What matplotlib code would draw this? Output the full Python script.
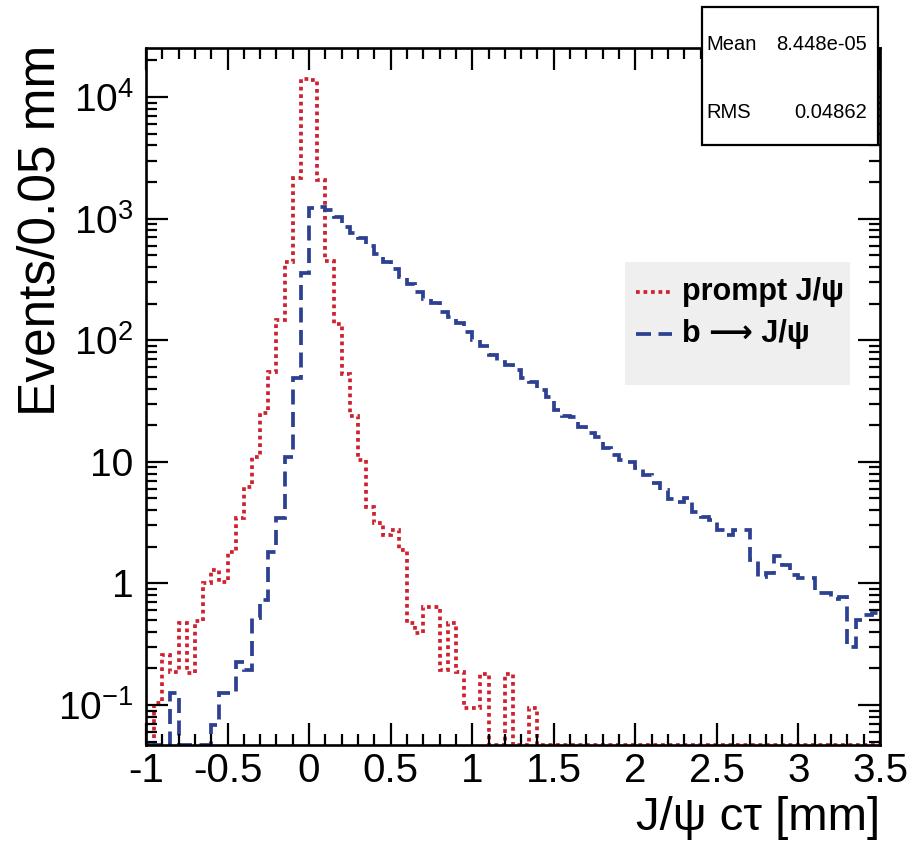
#!/usr/bin/env python3
"""J/psi の擬固有崩壊長 c tau 分布 (prompt と b 由来) を対数軸で描く。"""

import numpy as np
import matplotlib
matplotlib.use('Agg')
import matplotlib.pyplot as plt
from matplotlib.lines import Line2D
from matplotlib.patches import Rectangle
from matplotlib.ticker import FixedLocator, FixedFormatter, MultipleLocator, LogLocator, NullFormatter

# 0.05 mm ビン, -1 .. 3.5 mm (90 bins)
bin_lo = -1.0
bin_hi = 3.5
n_bins = 90

prompt_counts = [
    0, 0.103, 0.258, 0.188, 0.469, 0.183, 0.49, 1.0, 1.29, 1.03,
    1.82, 3.43, 6.24, 11.0, 25.0, 55.0, 146, 442, 2142, 14000,
    13700, 2072, 450, 137, 53.2, 24.0, 10.3, 4.27, 3.12, 2.5,
    2.75, 1.88, 0.47, 0.39, 0.64, 0.64, 0.194, 0.47, 0.188, 0.094,
    0.094, 0.18, 0, 0, 0.18, 0, 0, 0.094, 0, 0,
    0, 0, 0, 0, 0, 0, 0, 0, 0, 0,
    0, 0, 0, 0, 0, 0, 0, 0, 0, 0,
    0, 0, 0, 0, 0, 0, 0, 0, 0, 0,
    0, 0, 0, 0, 0, 0, 0, 0, 0, 0,
]
b_counts = [
    0, 0, 0, 0.125, 0, 0, 0, 0, 0.068, 0.125,
    0.125, 0.227, 0.194, 0.52, 0.73, 1.82, 3.43, 11.0, 48.6, 354,
    1218, 1257, 1176, 1023, 855, 757, 687, 597, 516, 442,
    383, 333, 290, 250, 220, 201, 171, 156, 138, 117,
    100, 90, 75, 66, 62, 57, 48.6, 45.5, 38.8, 34.2,
    26.7, 23.8, 23.5, 19.4, 17.2, 16.1, 12.9, 11.4, 10.3, 10.0,
    8.82, 7.79, 6.66, 5.85, 4.91, 4.7, 5.0, 3.89, 3.54, 3.32,
    2.75, 2.5, 2.75, 2.75, 1.56, 1.13, 1.22, 1.68, 1.42, 1.17,
    1.10, 1.10, 0.83, 0.83, 0.75, 0.78, 0.30, 0.50, 0.55, 0.57,
]

x_ticks = [-1, -0.5, 0, 0.5, 1, 1.5, 2, 2.5, 3, 3.5]
x_tick_labels = ['-1', '-0.5', '0', '0.5', '1', '1.5', '2', '2.5', '3', '3.5']
y_ticks = [1e-1, 1, 10, 1e2, 1e3, 1e4]
y_tick_labels = [r'$10^{-1}$', '1', '10', r'$10^{2}$', r'$10^{3}$', r'$10^{4}$']

stat_names = ['Mean', 'RMS']
stat_values = ['8.448e-05', '0.04862']
legend_labels = ['prompt J/ψ', 'b \u27f6 J/ψ']

x_title = 'J/ψ cτ [mm]'
y_title = 'Events/0.05 mm'

Y_MIN, Y_MAX = 0.0469, 2.53e4

FONT = ['Liberation Sans', 'DejaVu Sans']
RED = '#cf2231'
BLUE = '#2d4192'
RED_LS = (0, (1.0, 1.0))
BLUE_LS = (0, (4.0, 2.0))
LW = 2.7

W, H = 910, 842


def fig_xy(px, py):
    # ピクセル位置 (左上原点) → figure 座標
    return px / W, 1.0 - py / H


def main():
    plt.rcParams['font.family'] = FONT
    plt.rcParams['mathtext.fontset'] = 'custom'
    plt.rcParams['mathtext.rm'] = 'Liberation Sans'
    plt.rcParams['mathtext.it'] = 'Liberation Sans:italic'
    plt.rcParams['mathtext.bf'] = 'Liberation Sans:bold'

    fig = plt.figure(figsize=(W / 100, H / 100), dpi=100)
    x0, y1 = fig_xy(146, 48)
    x1, y0 = fig_xy(880, 745)
    ax = fig.add_axes([x0, y0, x1 - x0, y1 - y0])

    edges = np.linspace(bin_lo, bin_hi, n_bins + 1)
    # 空ビンはフレーム下端に張り付ける (ROOT と同じ見え方)
    for counts, color, ls in ((prompt_counts, RED, RED_LS), (b_counts, BLUE, BLUE_LS)):
        vals = np.asarray(counts, dtype=float)
        vals = np.where(vals > 0, vals, Y_MIN)
        ax.stairs(vals, edges, baseline=None, color=color, lw=LW, linestyle=ls)

    ax.set_yscale('log')
    ax.set_xlim(bin_lo, bin_hi)
    ax.set_ylim(Y_MIN, Y_MAX)

    ax.xaxis.set_major_locator(FixedLocator(x_ticks))
    ax.xaxis.set_major_formatter(FixedFormatter(x_tick_labels))
    ax.xaxis.set_minor_locator(MultipleLocator(0.1))
    ax.yaxis.set_major_locator(FixedLocator(y_ticks))
    ax.yaxis.set_major_formatter(FixedFormatter(y_tick_labels))
    ax.yaxis.set_minor_locator(LogLocator(base=10, subs=np.arange(2, 10), numticks=20))
    ax.yaxis.set_minor_formatter(NullFormatter())

    ax.tick_params(which='both', direction='in', top=True, right=True, width=1.6, colors='black')
    ax.tick_params(which='major', length=16)
    ax.tick_params(which='minor', length=8)
    ax.tick_params(axis='x', which='major', labelsize=29, pad=5)
    ax.tick_params(axis='y', which='major', labelsize=28, pad=9)
    for sp in ax.spines.values():
        sp.set_linewidth(1.9)

    ax.set_xlabel(x_title, fontsize=34, loc='right', labelpad=4)
    ax.set_ylabel(y_title, fontsize=37, loc='top')
    ax.yaxis.set_label_coords(-0.11, 1.005)

    # 統計ボックス (フレーム上辺に重ねる)
    bx0, by1 = fig_xy(702, 7)
    bx1, by0 = fig_xy(878, 145)
    fig.add_artist(Rectangle((bx0, by0), bx1 - bx0, by1 - by0, transform=fig.transFigure,
                             facecolor='white', edgecolor='black', lw=1.6, zorder=5))
    for name, value, py in zip(stat_names, stat_values, (45, 113)):
        tx, ty = fig_xy(706, py)
        fig.text(tx, ty, name, fontsize=14.5, va='center', ha='left', zorder=6)
        tx, ty = fig_xy(867, py)
        fig.text(tx, ty, value, fontsize=14.5, va='center', ha='right', zorder=6)

    # 凡例: 薄いグレーの箱, 枠線なし
    lx0, ly1 = fig_xy(625, 262)
    lx1, ly0 = fig_xy(850, 385)
    fig.add_artist(Rectangle((lx0, ly0), lx1 - lx0, ly1 - ly0, transform=fig.transFigure,
                             facecolor='#efefef', edgecolor='none', zorder=3))
    for label, color, ls, py in zip(legend_labels, (RED, BLUE), (RED_LS, BLUE_LS), (292, 334)):
        (hx0, hy), (hx1, _) = fig_xy(636, py), fig_xy(672, py)
        fig.add_artist(Line2D([hx0, hx1], [hy, hy], transform=fig.transFigure,
                              color=color, lw=LW, linestyle=ls, zorder=4))
        tx, ty = fig_xy(682, py)
        fig.text(tx, ty, label, fontsize=22, fontweight='bold', va='center', ha='left', zorder=4)

    fig.savefig('out.png', dpi=100)
    plt.close(fig)
    return 0


if __name__ == '__main__':
    raise SystemExit(main())
